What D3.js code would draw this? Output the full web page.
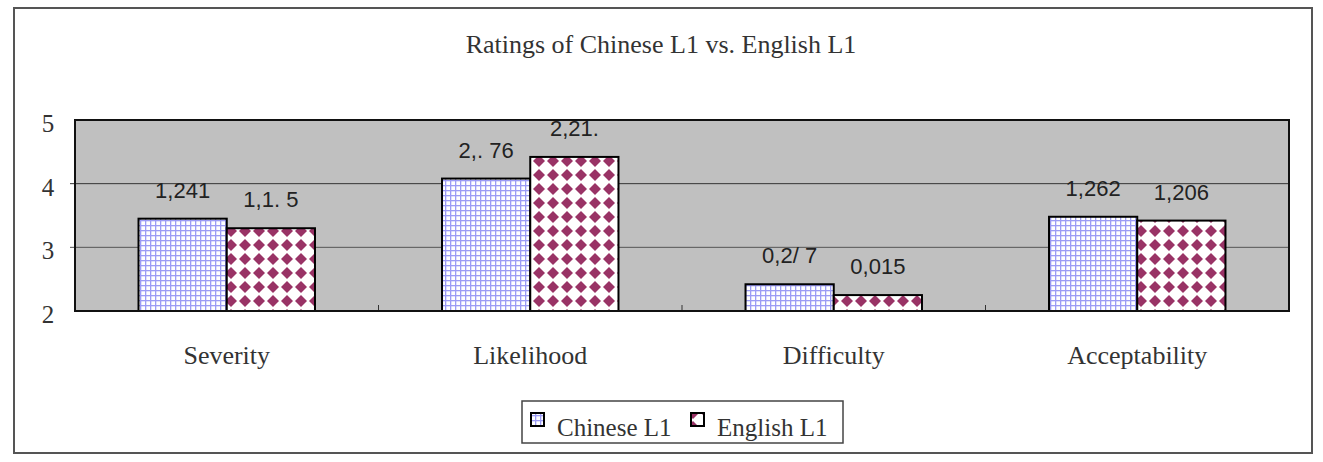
<!DOCTYPE html>
<html>
<head>
<meta charset="utf-8">
<script src="https://cdn.jsdelivr.net/npm/d3@7"></script>
<style>
  body { margin: 0; background: #fff; }
  svg { display: block; }
</style>
</head>
<body>
<svg id="chart" width="1323" height="462"></svg>
<script>
// values
var categories = ["Severity", "Likelihood", "Difficulty", "Acceptability"];
var seriesNames = ["Chinese L1", "English L1"];
var chineseVals = [3.45, 4.08, 2.42, 3.48];
var englishVals = [3.30, 4.42, 2.25, 3.42];
// the labels printed above the bars (kept as they appear)
var chineseLabels = ["1,241", "2,. 76", "0,2/ 7", "1,262"];
var englishLabels = ["1,1. 5", "2,21.", "0,015", "1,206"];
var yTicks = [2, 3, 4, 5];

var svg = d3.select("#chart");
var serif = "'Liberation Serif', 'Times New Roman', serif";
var sans = "'Liberation Sans', Arial, sans-serif";

// patterns
var defs = svg.append("defs");
var grid = defs.append("pattern")
    .attr("id", "pat_cn")
    .attr("patternUnits", "userSpaceOnUse")
    .attr("width", 5).attr("height", 5);
grid.append("rect").attr("width", 5).attr("height", 5).attr("fill", "#fff");
grid.append("rect").attr("x", 0).attr("y", 0).attr("width", 5).attr("height", 1.3).attr("fill", "#9c9cf5");
grid.append("rect").attr("x", 0).attr("y", 0).attr("width", 1.3).attr("height", 5).attr("fill", "#9c9cf5");

var dia = defs.append("pattern")
    .attr("id", "pat_en")
    .attr("patternUnits", "userSpaceOnUse")
    .attr("width", 14).attr("height", 14);
dia.append("rect").attr("width", 14).attr("height", 14).attr("fill", "#fff");
dia.append("polygon").attr("points", "7,1 13,7 7,13 1,7").attr("fill", "#993366");

// outer frame
svg.append("rect")
    .attr("x", 14).attr("y", 8)
    .attr("width", 1298).attr("height", 445)
    .attr("fill", "#fff")
    .attr("stroke", "#555")
    .attr("stroke-width", 2);

svg.append("text")
    .attr("x", 661).attr("y", 53)
    .attr("text-anchor", "middle")
    .style("font-family", serif)
    .style("font-size", "26px")
    .style("fill", "#333")
    .text("Ratings of Chinese L1 vs. English L1");

var margin = {left: 75, right: 1289, top: 120, bottom: 311};

var x = d3.scaleBand()
    .domain(categories)
    .range([margin.left, margin.right]);
var x1 = d3.scaleBand()
    .domain(seriesNames)
    .range([0, x.bandwidth()])
    .paddingOuter(0.72);
var y = d3.scaleLinear()
    .domain([2, 5])
    .range([margin.bottom, margin.top]);

// plot background
svg.append("rect")
    .attr("x", margin.left).attr("y", margin.top)
    .attr("width", margin.right - margin.left)
    .attr("height", margin.bottom - margin.top)
    .attr("fill", "#c0c0c0");

// gridlines
svg.append("g").selectAll("line")
    .data([3, 4])
    .enter().append("line")
    .attr("x1", margin.left - 5).attr("x2", margin.right)
    .attr("y1", function(d){ return y(d); })
    .attr("y2", function(d){ return y(d); })
    .attr("stroke", function(d){ return d == 4 ? "#333" : "#555"; })
    .attr("stroke-width", 1);

// x-axis category dividers
svg.append("g").selectAll("line")
    .data(categories.slice(1))
    .enter().append("line")
    .attr("x1", function(d){ return x(d); })
    .attr("x2", function(d){ return x(d); })
    .attr("y1", margin.bottom)
    .attr("y2", margin.bottom - 6)
    .attr("stroke", "#333");

var rows = categories.map(function(c, i){
    return [
        {cat: c, s: seriesNames[0], v: chineseVals[i], lab: chineseLabels[i], fill: "url(#pat_cn)"},
        {cat: c, s: seriesNames[1], v: englishVals[i], lab: englishLabels[i], fill: "url(#pat_en)"}
    ];
});
var flat = d3.merge(rows);

svg.append("g").selectAll("rect")
    .data(flat)
    .enter().append("rect")
    .attr("x", function(d){ return x(d.cat) + x1(d.s); })
    .attr("y", function(d){ return y(d.v); })
    .attr("width", x1.bandwidth())
    .attr("height", function(d){ return y(2) - y(d.v); })
    .attr("fill", function(d){ return d.fill; })
    .attr("stroke", "#000")
    .attr("stroke-width", 2);

svg.append("g").selectAll("text")
    .data(flat)
    .enter().append("text")
    .attr("x", function(d){ return x(d.cat) + x1(d.s) + x1.bandwidth() / 2; })
    .attr("y", function(d){ return y(d.v) - 21; })
    .attr("text-anchor", "middle")
    .style("font-family", sans)
    .style("font-size", "22px")
    .style("fill", "#222")
    .text(function(d){ return d.lab; });

// plot border
svg.append("rect")
    .attr("x", margin.left).attr("y", margin.top)
    .attr("width", margin.right - margin.left)
    .attr("height", margin.bottom - margin.top)
    .attr("fill", "none")
    .attr("stroke", "#111")
    .attr("stroke-width", 2);

// y tick labels
svg.append("g").selectAll("text")
    .data(yTicks)
    .enter().append("text")
    .attr("x", 48)
    .attr("y", function(d){ return y(d) + 12; })
    .attr("text-anchor", "middle")
    .style("font-family", serif)
    .style("font-size", "25px")
    .style("fill", "#333")
    .text(function(d){ return d; });

// category labels
svg.append("g").selectAll("text")
    .data(categories)
    .enter().append("text")
    .attr("x", function(d){ return x(d) + x.bandwidth() / 2; })
    .attr("y", 364)
    .attr("text-anchor", "middle")
    .style("font-family", serif)
    .style("font-size", "26px")
    .style("fill", "#333")
    .text(function(d){ return d; });

// legend
var legend = svg.append("g");
legend.append("rect")
    .attr("x", 522).attr("y", 401)
    .attr("width", 321).attr("height", 42)
    .attr("fill", "#fff")
    .attr("stroke", "#444")
    .attr("stroke-width", 1.5);
var legX = [531, 691];
var legFill = ["url(#pat_cn)", "url(#pat_en)"];
seriesNames.forEach(function(s, i){
    legend.append("rect")
        .attr("x", legX[i]).attr("y", 413)
        .attr("width", 13).attr("height", 13)
        .attr("fill", legFill[i])
        .attr("stroke", "#000")
        .attr("stroke-width", 2);
    legend.append("text")
        .attr("x", legX[i] + 26).attr("y", 436)
        .style("font-family", serif)
        .style("font-size", "25px")
        .style("fill", "#333")
        .text(s);
});
</script>
</body>
</html>
